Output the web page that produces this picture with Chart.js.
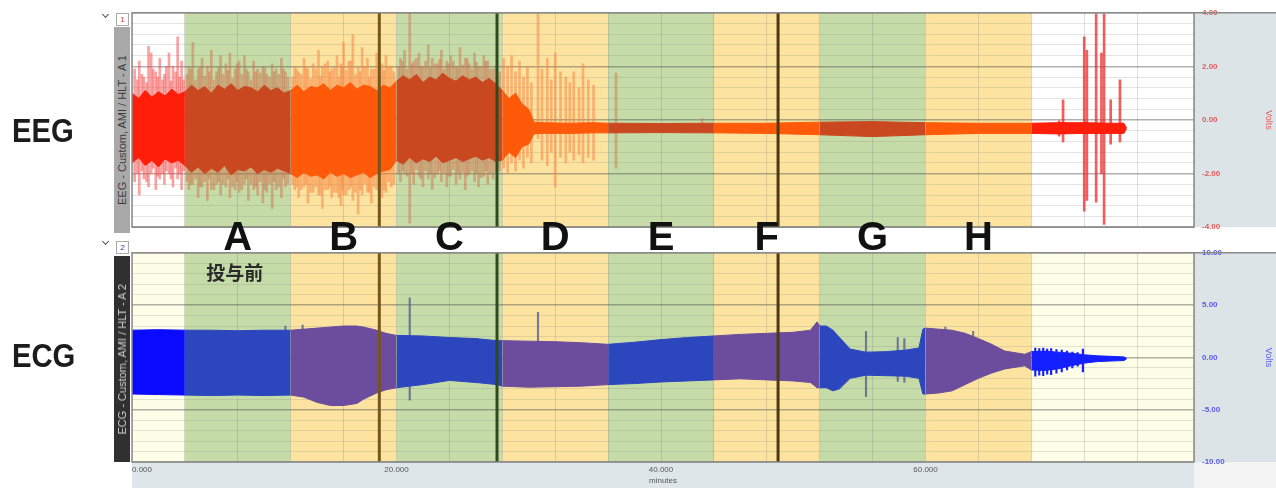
<!DOCTYPE html>
<html>
<head>
<meta charset="utf-8">
<script src="https://cdn.jsdelivr.net/npm/chart.js@4.4.1/dist/chart.umd.min.js"></script>
<style>
  body { margin:0; background:#fff; width:1276px; height:488px; overflow:hidden; position:relative; font-family:"Liberation Sans", Arial, sans-serif; }
  canvas { position:absolute; left:0; }
  #cEEG { top:0; }
  #cECG { top:240px; }
  .big { position:absolute; left:12px; font-weight:bold; font-size:34px; line-height:34px; color:#1c1c1c; transform:scaleX(0.86); transform-origin:left top; }
  .band { position:absolute; top:236px; font-weight:bold; font-size:40px; line-height:40px; color:#111; transform:translate(-50%,-50%); z-index:5; }
  .jp { position:absolute; top:272px; font-family:"Noto Sans CJK JP", sans-serif; font-weight:bold; font-size:19px; line-height:20px; color:#2a2a2a; transform:translate(-50%,-50%); z-index:5; }
  .chev { position:absolute; left:103px; width:4px; height:4px; border-right:1.5px solid #555; border-bottom:1.5px solid #555; transform:rotate(45deg); }
  .num { position:absolute; left:116px; width:11px; height:11px; border:1px solid #aaa; background:#fff; font-size:8px; line-height:11px; text-align:center; }
  .strip { position:absolute; left:114px; width:16px; height:206px; display:flex; align-items:center; justify-content:center; }
  .strip span { writing-mode:vertical-rl; transform:rotate(180deg); font-size:11px; white-space:nowrap; }
</style>
</head>
<body>
<canvas id="cEEG" width="1276" height="240"></canvas>
<canvas id="cECG" width="1276" height="248"></canvas>

<div class="big" style="top:113px">EEG</div>
<div class="big" style="top:338px">ECG</div>

<div class="chev" style="top:12px"></div>
<div class="chev" style="top:239px"></div>
<div class="num" style="top:13px;color:#e03030">1</div>
<div class="num" style="top:241px;color:#3030e0">2</div>
<div class="strip" style="top:27px;background:#a9a9a9;color:#3c3c3c"><span>EEG - Custom, AMI / HLT - A 1</span></div>
<div class="strip" style="top:256px;background:#303030;color:#d0d0d0"><span>ECG - Custom, AMI / HLT - A 2</span></div>

<script>
// ---- data (minutes / volts) ----
var bandEdges = [4, 12, 20, 28, 36, 44, 52, 60, 68];
var bandLabels = ['A', 'B', 'C', 'D', 'E', 'F', 'G', 'H'];
var preLabel = '投与前';
var markerTimes = [18.7, 27.6, 48.85];
var xLabelTimes = [0, 20, 40, 60];

// EEG dense core band
var eegCoreT = [0,0.5,1,1.5,2,2.5,3,3.5,
  4,4.5,5,5.5,6,6.5,7,7.5,8,8.5,9,9.5,10,10.5,11,11.5,
  12,12.5,13,13.5,14,14.5,15,15.5,16,16.5,17,17.5,18,18.5,19,19.5,
  20,20.5,21,21.5,22,22.5,23,23.5,24,24.5,25,25.5,26,26.5,27,27.5,
  28,28.5,29,29.5,30,30.4,31,33,35,36,40,44,48,52,56,60,64,68,70,72,74,75,75.2];
var eegCoreHi = [1.0,0.8,1.1,0.85,1.05,0.9,1.15,0.95,
  1.05,1.3,1.1,1.25,1.0,1.3,1.15,1.35,1.1,1.25,1.2,1.05,1.3,1.1,1.2,1.0,
  1.1,1.3,1.05,1.25,1.2,1.35,1.1,1.3,1.2,1.4,1.15,1.3,1.25,1.1,1.3,1.2,
  1.45,1.65,1.5,1.7,1.4,1.6,1.5,1.75,1.55,1.45,1.65,1.5,1.6,1.4,1.55,1.35,
  1.1,0.8,1.0,0.6,0.4,-0.08,-0.1,-0.12,-0.1,-0.12,-0.13,-0.12,-0.12,-0.08,-0.06,-0.1,-0.12,-0.12,-0.1,-0.1,-0.12,-0.12,-0.3];
var eegCoreLo = [-1.6,-1.4,-1.7,-1.5,-1.75,-1.45,-1.6,-1.5,
  -1.7,-1.95,-1.75,-2.0,-1.8,-1.95,-1.7,-2.05,-1.85,-1.9,-1.75,-2.0,-1.85,-1.95,-1.8,-1.9,
  -2.0,-2.15,-1.95,-2.1,-2.05,-2.2,-1.95,-2.1,-2.0,-2.15,-2.05,-1.95,-2.15,-2.0,-1.9,-1.85,
  -1.5,-1.65,-1.4,-1.6,-1.45,-1.55,-1.35,-1.6,-1.5,-1.4,-1.55,-1.45,-1.35,-1.5,-1.4,-1.55,
  -1.5,-1.2,-1.4,-1.0,-0.9,-0.52,-0.5,-0.5,-0.48,-0.48,-0.47,-0.48,-0.5,-0.55,-0.62,-0.55,-0.5,-0.5,-0.52,-0.5,-0.5,-0.5,-0.32];

// EEG tall spikes (min / max of each burst)
var eegSpikeT = [0.2,0.55,0.9,1.25,1.45,1.8,2.1,2.45,2.8,3.1,3.45,3.75,
  4.3,4.6,5.0,5.3,5.7,6.0,6.4,6.7,7.1,7.4,7.8,8.1,8.5,8.8,9.2,9.5,9.9,10.2,10.6,10.9,11.3,11.6,
  12.3,12.6,13.0,13.3,13.7,14.1,14.4,14.8,15.1,15.5,15.8,16.0,16.4,16.7,17.1,17.4,17.8,18.1,18.5,18.9,19.2,19.6,
  20.3,20.6,21.0,21.3,21.7,22.0,22.4,22.7,23.1,23.4,23.8,24.1,24.5,24.8,25.2,25.5,25.9,26.2,26.6,26.9,27.3,
  28.1,28.4,28.7,29.0,29.3,29.6,29.9,30.2,30.7,31.0,31.4,31.7,32.0,32.4,32.8,33.1,33.4,33.8,34.1,34.5,34.9,36.6,
  43.1,
  70.1,70.4,72.0,72.2,72.9,73.3,73.5,74.0,74.7];
var eegSpikeHi = [1.9,2.2,1.6,2.75,2.5,1.8,2.3,1.7,2.5,2.0,3.1,2.2,
  2.0,2.9,1.9,2.3,2.0,2.6,1.8,2.4,2.1,2.5,1.9,2.2,2.4,1.8,2.2,1.9,2.0,1.7,2.1,1.9,2.3,1.8,
  2.0,1.8,2.3,1.9,2.1,2.6,2.0,2.2,1.9,2.4,2.1,2.9,2.2,3.2,2.0,2.7,2.3,1.9,2.5,2.1,2.4,2.0,
  2.3,2.6,4.0,2.2,2.5,2.0,2.8,2.3,2.1,2.6,2.2,2.4,2.0,2.7,2.3,2.1,2.5,2.0,2.4,2.2,1.9,
  2.3,2.0,2.4,1.8,2.2,1.6,2.0,1.4,4.0,1.9,2.3,1.5,2.5,1.8,1.6,1.4,1.8,1.2,2.1,1.5,1.3,1.75,
  0.05,
  0.0,0.75,3.1,2.6,3.96,2.5,3.96,0.75,1.5];
var eegSpikeLo = [-2.3,-2.8,-2.2,-2.5,-2.0,-2.6,-2.2,-2.4,-2.0,-2.5,-2.2,-2.6,
  -2.6,-2.4,-2.9,-2.5,-3.0,-2.6,-2.4,-2.8,-2.5,-2.9,-2.6,-2.7,-2.4,-3.0,-2.6,-2.8,-3.1,-2.7,-3.3,-2.6,-2.9,-2.5,
  -2.6,-2.9,-2.5,-3.1,-2.7,-2.8,-3.3,-2.6,-2.9,-2.7,-3.2,-2.8,-2.6,-3.0,-3.5,-2.8,-2.7,-3.1,-2.6,-2.9,-2.7,-2.5,
  -2.3,-2.0,-3.85,-2.4,-2.1,-2.5,-2.2,-2.6,-2.0,-2.3,-2.5,-2.1,-2.4,-2.2,-2.6,-2.0,-2.3,-2.5,-2.1,-2.4,-2.2,
  -1.8,-2.0,-1.6,-1.9,-1.5,-1.8,-1.4,-1.6,-0.7,-1.5,-1.7,-1.2,-2.5,-1.4,-1.6,-1.2,-1.5,-1.3,-1.6,-1.4,-1.5,-1.8,
  -0.3,
  -0.6,-0.82,-3.4,-3.0,-3.07,-2.0,-3.9,-0.9,-0.82];

// EEG shorter fringe spikes between the tall ones
var eegFringeT = [0.4,0.75,1.1,1.6,1.95,2.3,2.6,2.95,3.3,3.6,3.9,
  4.15,4.45,4.8,5.15,5.5,5.85,6.2,6.55,6.9,7.25,7.6,7.95,8.3,8.65,9.0,9.35,9.7,10.05,10.4,10.75,11.1,11.45,11.8,
  12.15,12.45,12.8,13.15,13.5,13.9,14.25,14.6,14.95,15.3,15.65,15.9,16.2,16.55,16.9,17.25,17.6,17.95,18.3,18.7,19.05,19.4,19.8,
  20.15,20.45,20.8,21.15,21.5,21.85,22.2,22.55,22.9,23.25,23.6,23.95,24.3,24.65,25.0,25.35,25.7,26.05,26.4,26.75,27.1,27.5,27.8];
var eegFringeHi = [1.5,1.7,1.4,1.9,1.6,1.5,2.0,1.45,1.8,1.6,1.5,
  1.7,1.9,1.5,2.0,1.65,1.8,1.5,1.95,1.7,1.85,1.55,2.1,1.7,1.9,1.5,1.8,1.75,1.95,1.6,1.8,1.7,1.9,1.6,
  1.6,1.9,1.7,2.0,1.55,1.9,1.65,2.1,1.8,1.95,1.6,2.0,1.85,2.2,1.7,1.8,2.0,1.6,1.9,1.7,1.85,2.0,1.8,
  2.0,2.2,1.9,2.1,2.3,2.0,2.2,1.95,2.1,2.25,1.9,2.1,2.2,1.95,2.05,2.3,1.9,2.15,2.0,2.2,1.9,2.0,1.8];
var eegFringeLo = [-2.0,-1.9,-2.3,-1.8,-2.1,-2.0,-1.9,-2.2,-1.8,-2.0,-1.9,
  -2.3,-2.4,-2.2,-2.5,-2.3,-2.2,-2.6,-2.3,-2.4,-2.2,-2.5,-2.3,-2.6,-2.2,-2.4,-2.5,-2.3,-2.6,-2.4,-2.3,-2.5,-2.2,-2.4,
  -2.4,-2.5,-2.6,-2.4,-2.7,-2.5,-2.8,-2.6,-2.5,-2.7,-2.9,-2.6,-2.8,-2.5,-2.7,-2.6,-2.4,-2.7,-2.5,-2.4,-2.6,-2.3,-2.4,
  -2.0,-1.9,-2.1,-2.0,-1.85,-2.2,-1.9,-2.0,-2.15,-1.9,-2.0,-2.1,-1.85,-2.0,-1.95,-2.1,-1.9,-2.0,-2.15,-1.9,-2.0,-1.95,-1.9];

// ECG envelope
var ecgT = [0,2,4,6,8,10,12, 13,14,15,16,17,17.5,18.5,19.2, 20,22,24,26,27.6, 28,30,32,34, 36,38,40,42, 44,46,48,50,51.3,51.8,
  52,52.5,53,53.5,54.3,55.5,57,58.5,59.5,59.8, 60,61,62,63,64,65,66,67.5, 68,69,70,71,72,73,74,75,75.2];
var ecgHi = [2.6,2.65,2.6,2.6,2.55,2.6,2.6, 2.7,2.8,2.9,3.0,3.0,2.9,2.6,2.3, 2.1,2.05,1.9,1.8,1.6, 1.6,1.55,1.5,1.4, 1.25,1.45,1.7,1.9,
  2.05,2.2,2.3,2.4,2.6,3.4, 3.0,3.0,2.6,1.9,0.8,0.5,0.55,0.7,0.9,2.7, 2.8,2.7,2.6,2.3,1.8,1.25,0.6,0.3, 0.55,0.6,0.5,0.4,0.25,0.15,0.1,0.05,-0.1];
var ecgLo = [-3.5,-3.55,-3.6,-3.65,-3.6,-3.65,-3.6, -3.8,-4.3,-4.6,-4.6,-4.4,-4.0,-3.4,-3.1, -2.9,-2.6,-2.2,-2.4,-2.6, -2.75,-2.85,-2.8,-2.75, -2.6,-2.5,-2.35,-2.25,
  -2.15,-2.05,-2.15,-2.25,-2.4,-2.9, -2.9,-2.9,-3.2,-3.0,-2.0,-1.7,-1.75,-1.8,-2.0,-3.5, -3.5,-3.4,-3.2,-2.6,-2.0,-1.5,-1.1,-0.8, -1.2,-1.25,-1.1,-0.8,-0.55,-0.4,-0.35,-0.3,-0.15];

var ecgSpikeT = [11.6,12.9,21.0,30.7,55.5,57.9,58.4,61.5,63.6, 68.3,68.6,68.9,69.2,69.5,69.9,70.3,70.7,71.1,71.5,71.9];
var ecgSpikeHi = [3.0,3.1,5.7,4.3,2.5,1.9,1.8,2.9,2.5, 0.9,0.85,0.9,0.8,0.85,0.75,0.7,0.6,0.5,0.45,0.8];
var ecgSpikeLo = [2.0,2.4,-4.1,1.0,-3.75,-2.3,-2.4,1.5,1.5, -1.8,-1.7,-1.75,-1.6,-1.65,-1.5,-1.4,-1.2,-1.0,-0.85,-1.4];

// ---- styles ----
var bandColors = ['#c6dca8', '#fce4a0'];
var markerColors = ['#76561a', '#2e4a1e', '#4a3a12'];

function bandOf(t) {
  for (var i = 0; i < bandLabels.length; i++) {
    if (t >= bandEdges[i] && t < bandEdges[i + 1]) return i;
  }
  return -1;
}
function eegCoreColor(t) {
  var b = bandOf(t);
  if (b < 0) return '#ff1e0a';
  return b % 2 ? '#ff5a0a' : '#c9481f';
}
function eegSpikeColor(t) {
  var b = bandOf(t);
  if (b < 0) return t > 60 ? 'rgba(235,40,40,0.75)' : 'rgba(245,70,70,0.5)';
  return b % 2 ? 'rgba(250,135,70,0.55)' : 'rgba(205,115,75,0.5)';
}
function ecgCoreColor(t) {
  var b = bandOf(t);
  if (b < 0) return t > 60 ? '#1420ff' : '#0a0aff';
  return b % 2 ? '#6b4c9d' : '#2c46be';
}
function ecgSpikeColor(t) {
  if (t >= bandEdges[bandEdges.length - 1]) return '#1420ff';
  return 'rgba(90,95,140,0.8)';
}

function pts(ts, vs) { return ts.map(function (t, i) { return {x: t, y: vs[i]}; }); }
function bars(ts, lo, hi) { return ts.map(function (t, i) { return {x: t, y: [lo[i], hi[i]]}; }); }
function isMajor(v, step) { return Math.abs(v / step - Math.round(v / step)) < 1e-6; }

// backgrounds, bands, marker lines and frame
var panelPlugin = {
  id: 'panel',
  beforeDraw: function (chart, args, opts) {
    var ctx = chart.ctx, a = chart.chartArea, xs = chart.scales.x;
    ctx.save();
    ctx.fillStyle = '#dde4e8';
    ctx.fillRect(a.right, a.top, chart.width - a.right, a.bottom - a.top);
    ctx.fillStyle = opts.outside;
    ctx.fillRect(a.left, a.top, a.right - a.left, a.bottom - a.top);
    for (var i = 0; i < bandLabels.length; i++) {
      var x0 = xs.getPixelForValue(bandEdges[i]), x1 = xs.getPixelForValue(bandEdges[i + 1]);
      ctx.fillStyle = bandColors[i % 2];
      ctx.fillRect(x0, a.top, x1 - x0, a.bottom - a.top);
    }
    if (opts.axisBg) {
      ctx.fillStyle = '#dfe6ea';
      ctx.fillRect(a.left, a.bottom, a.right - a.left, chart.height - a.bottom);
      ctx.fillStyle = '#f3f3f3';
      ctx.fillRect(a.right, a.bottom, chart.width - a.right, chart.height - a.bottom);
    }
    ctx.restore();
  },
  afterDatasetsDraw: function (chart) {
    var ctx = chart.ctx, a = chart.chartArea, xs = chart.scales.x;
    ctx.save();
    ctx.lineWidth = 3;
    markerTimes.forEach(function (t, i) {
      var x = xs.getPixelForValue(t);
      ctx.strokeStyle = markerColors[i];
      ctx.beginPath();
      ctx.moveTo(x, a.top);
      ctx.lineTo(x, a.bottom);
      ctx.stroke();
    });
    ctx.restore();
  },
  afterDraw: function (chart) {
    var ctx = chart.ctx, a = chart.chartArea;
    ctx.save();
    ctx.strokeStyle = '#8a8a8a';
    ctx.lineWidth = 1.5;
    ctx.strokeRect(a.left, a.top, a.right - a.left, a.bottom - a.top);
    ctx.beginPath();
    ctx.moveTo(a.right, a.top);
    ctx.lineTo(chart.width, a.top);
    ctx.stroke();
    ctx.restore();
  }
};

function makePanel(canvasId, o) {
  return new Chart(document.getElementById(canvasId), {
    type: 'line',
    data: {
      datasets: [
        { data: pts(o.t, o.hi), fill: '+1', borderWidth: 1, pointRadius: 0, tension: 0,
          segment: { backgroundColor: function (c) { return o.core(c.p0.parsed.x); },
                     borderColor: function (c) { return o.core(c.p0.parsed.x); } } },
        { data: pts(o.t, o.lo), fill: false, borderWidth: 1, pointRadius: 0, tension: 0,
          segment: { borderColor: function (c) { return o.core(c.p0.parsed.x); } } },
        { type: 'bar', data: bars(o.st, o.slo, o.shi), barThickness: o.bw, borderWidth: 0,
          backgroundColor: function (c) { return o.spike(c.raw.x); } }
      ]
    },
    options: {
      responsive: false,
      animation: false,
      events: [],
      layout: { padding: o.pad },
      plugins: { legend: { display: false }, tooltip: { enabled: false },
                 panel: { outside: o.outside, axisBg: o.showX } },
      scales: {
        x: {
          type: 'linear', min: 0, max: 80.3, offset: false,
          ticks: { display: o.showX, stepSize: 4, autoSkip: false, maxRotation: 0, align: 'inner',
                   color: '#555', font: { size: 8 }, padding: 3,
                   callback: function (v) { return xLabelTimes.indexOf(v) >= 0 ? v.toFixed(3) : ''; } },
          grid: { color: 'rgba(90,90,90,0.2)', drawTicks: false, offset: false },
          border: { display: false },
          title: { display: o.showX, text: 'minutes', color: '#555', font: { size: 8 }, padding: { top: 0, bottom: 2 } },
          afterFit: function (s) { s.height = o.showX ? 26 : 0; }
        },
        y: {
          position: 'right', min: o.min, max: o.max,
          ticks: { stepSize: o.minor, autoSkip: false, color: o.tickColor, font: { size: 8, weight: 'bold' }, padding: 8,
                   callback: function (v) { return isMajor(v, o.major) ? (Math.abs(v) < 1e-9 ? 0 : v).toFixed(2) : ''; } },
          grid: { drawTicks: false,
                  color: function (c) { return isMajor(c.tick.value, o.major) ? 'rgba(80,80,80,0.45)' : 'rgba(120,120,120,0.2)'; },
                  lineWidth: function (c) { return isMajor(c.tick.value, o.major) ? 1.5 : 1; } },
          border: { display: false },
          title: { display: true, text: 'Volts', color: o.tickColor, font: { size: 9 }, padding: 2 },
          afterFit: function (s) { s.width = 82; }
        }
      }
    },
    plugins: [panelPlugin]
  });
}

var eegChart = makePanel('cEEG', {
  t: eegCoreT, hi: eegCoreHi, lo: eegCoreLo,
  st: eegSpikeT.concat(eegFringeT), shi: eegSpikeHi.concat(eegFringeHi), slo: eegSpikeLo.concat(eegFringeLo), bw: 2,
  core: eegCoreColor, spike: eegSpikeColor,
  min: -4, max: 4, minor: 0.4, major: 2, tickColor: '#e25a5a',
  outside: '#ffffff', showX: false,
  pad: { left: 132, top: 12, bottom: 4, right: 0 }
});

var ecgChart = makePanel('cECG', {
  t: ecgT, hi: ecgHi, lo: ecgLo,
  st: ecgSpikeT, shi: ecgSpikeHi, slo: ecgSpikeLo, bw: 1.5,
  core: ecgCoreColor, spike: ecgSpikeColor,
  min: -10, max: 10, minor: 1, major: 5, tickColor: '#5a5af0',
  outside: '#fdfde8', showX: true,
  pad: { left: 132, top: 0, bottom: 0, right: 0 }
});

// band letters sit on the boundary between the two panels
var xs = eegChart.scales.x;
bandLabels.forEach(function (lab, i) {
  var d = document.createElement('div');
  d.className = 'band';
  d.textContent = lab;
  d.style.left = xs.getPixelForValue((bandEdges[i] + bandEdges[i + 1]) / 2) + 'px';
  document.body.appendChild(d);
});
var jp = document.createElement('div');
jp.className = 'jp';
jp.textContent = preLabel;
jp.style.left = (xs.getPixelForValue((bandEdges[0] + bandEdges[1]) / 2) - 3) + 'px';
document.body.appendChild(jp);
</script>
</body>
</html>
